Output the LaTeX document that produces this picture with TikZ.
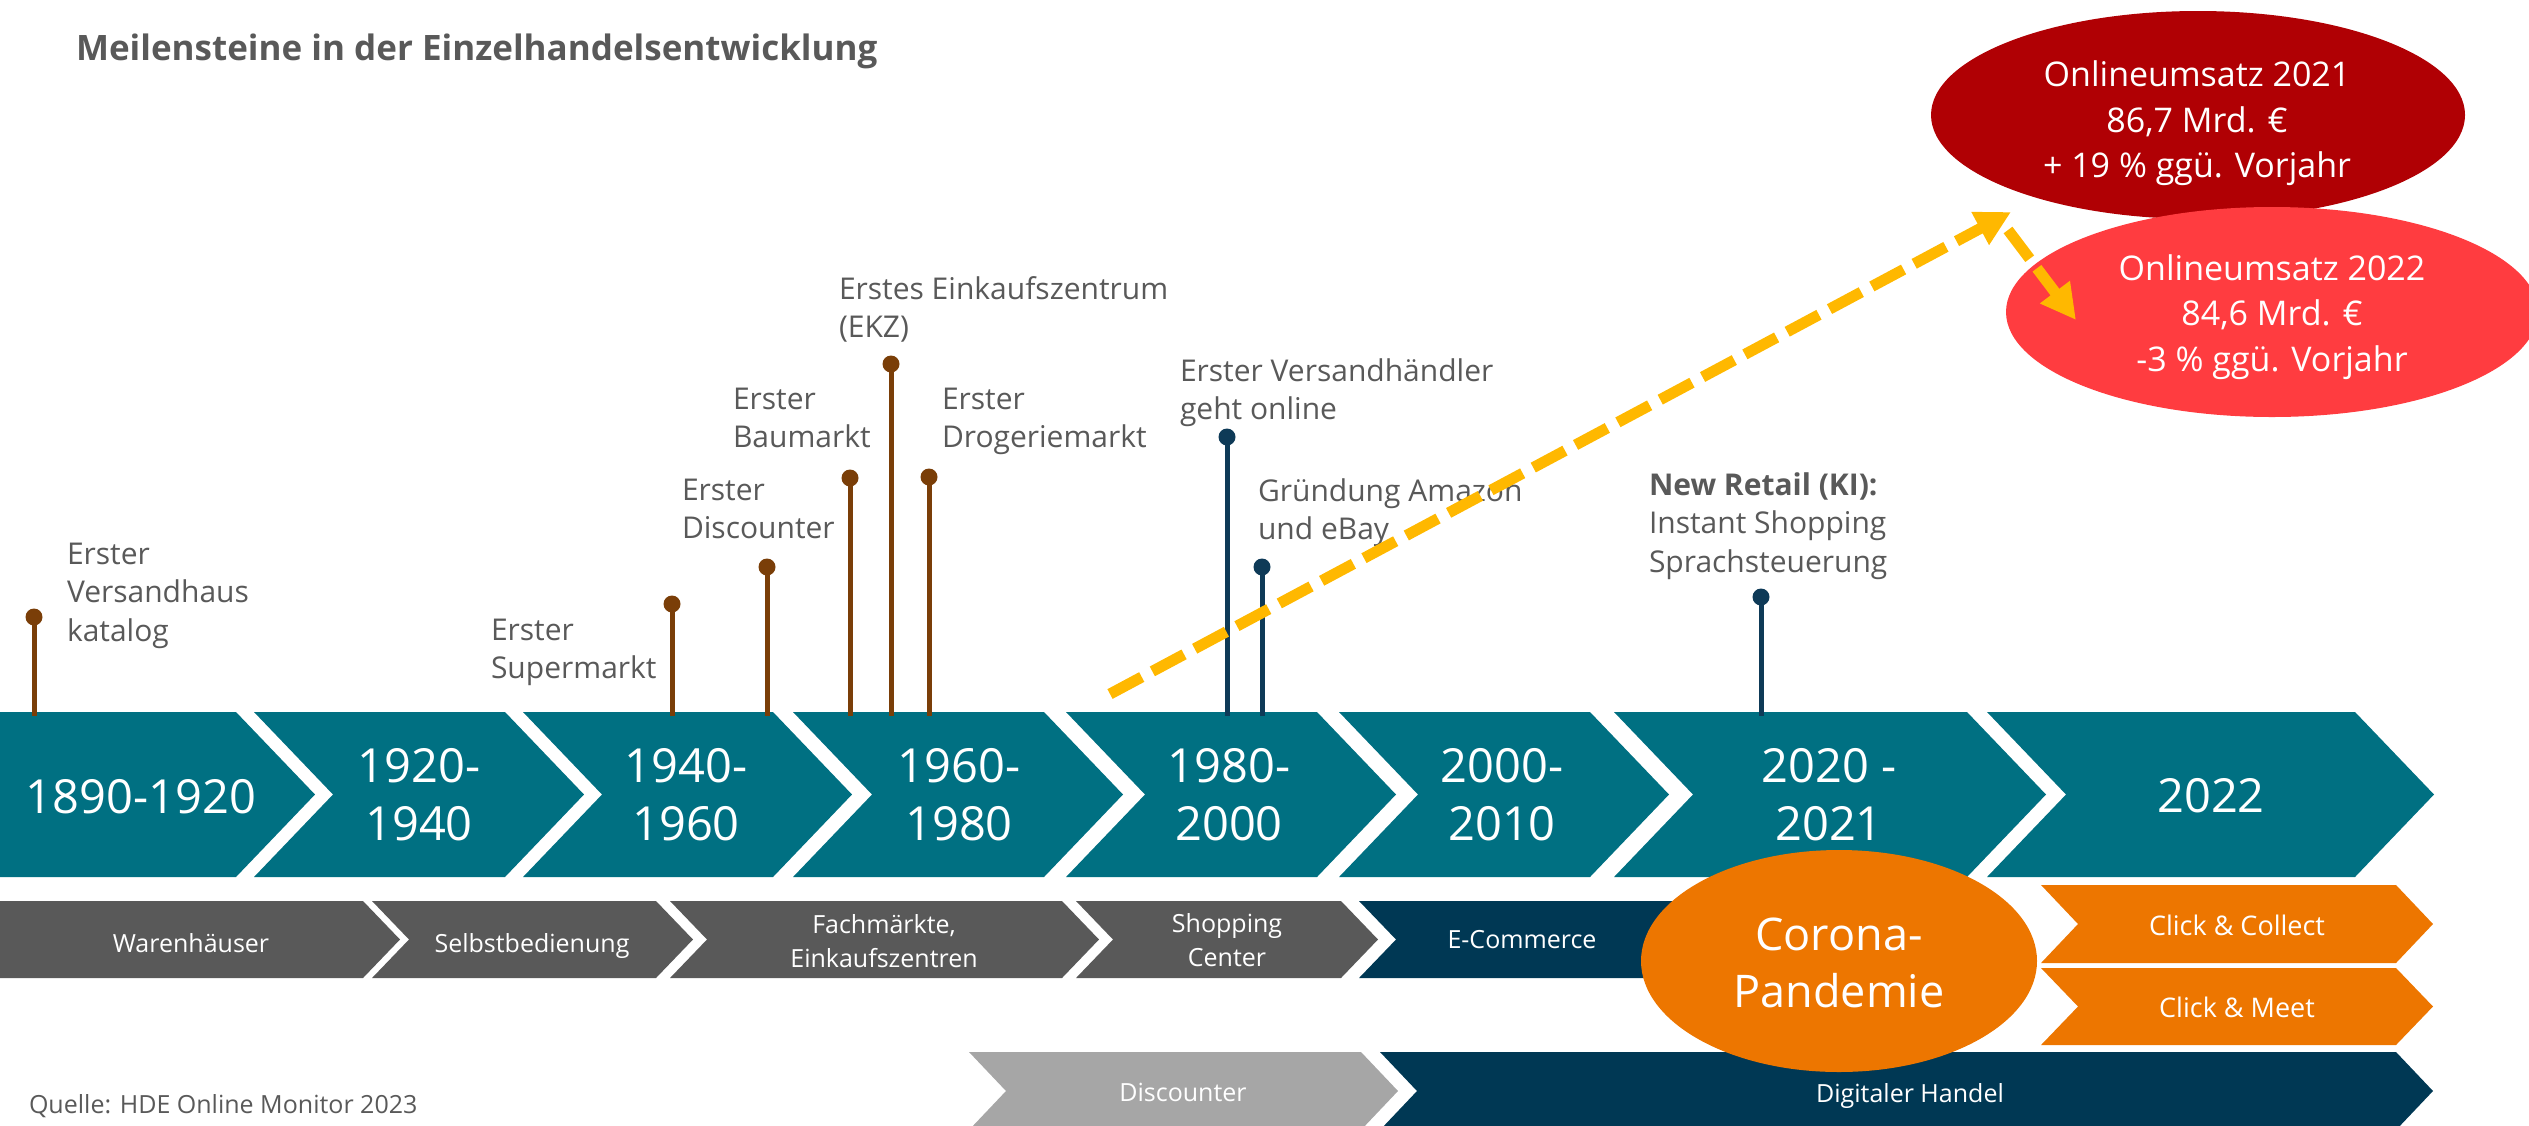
\documentclass[tikz,border=0pt]{standalone}
\usepackage{fontspec}
\setmainfont{Open Sans}
\usetikzlibrary{arrows.meta,shapes.geometric}

\definecolor{cTeal}{RGB}{0,112,130}
\definecolor{cNavy}{RGB}{0,56,84}
\definecolor{cGrey}{RGB}{89,89,89}
\definecolor{cLight}{RGB}{166,166,166}
\definecolor{cOrange}{RGB}{237,118,0}
\definecolor{cDarkRed}{RGB}{176,0,4}
\definecolor{cRed}{RGB}{255,60,64}
\definecolor{cYellow}{RGB}{255,184,0}
\definecolor{cBrown}{RGB}{122,62,8}
\definecolor{cPin}{RGB}{14,58,87}
\definecolor{cText}{RGB}{89,89,89}

% band with pointed right end: fill, left x, right x, top y, bottom y, tip depth, notch depth
\newcommand\band[7]{%
  \fill[#1] (#2,#4) -- (#3,#4) -- ({#3+#6},{(#4+#5)/2}) -- (#3,#5) -- (#2,#5)
    -- ({#2+#7},{(#4+#5)/2}) -- cycle;}

\begin{document}
\begin{tikzpicture}[x=1pt, y=-1pt,
  every node/.style={inner sep=0pt, outer sep=0pt},
  yeartext/.style={text=white, align=center, anchor=base, font=\fontsize{47}{58}\selectfont},
  bandtext/.style={text=white, align=center, anchor=base, font=\fontsize{25}{34}\selectfont},
  clicktext/.style={text=white, anchor=base, font=\fontsize{27}{34}\selectfont},
  mstext/.style={text=cText, align=left, anchor=base west, font=\fontsize{30}{38.5}\selectfont},
  ovaltext/.style={text=white, align=center, anchor=base, font=\fontsize{34}{45.5}\selectfont},
  stem/.style={line width=5pt},
  pindot/.style={circle, minimum size=17pt, fill=#1},
  yarrow/.style={draw=cYellow, line width=11pt, dash pattern=on 36pt off 12pt,
    -{Triangle[length=35pt,width=35pt]}},
]
\useasboundingbox (0,0) rectangle (2529,1125);
\clip (0,0) rectangle (2529,1125);

% title
\node[anchor=base west, text=cText, font=\fontsize{35}{42}\selectfont\bfseries] (title)
  at (76,60.5) {Meilensteine in der Einzelhandelsentwicklung};

% period chevrons
\band{cTeal}{0}{236}{712}{877}{79}{0}
\band{cTeal}{254}{505}{712}{877}{79}{79}
\band{cTeal}{523}{773}{712}{877}{79}{79}
\band{cTeal}{793}{1044}{712}{877}{79}{79}
\band{cTeal}{1066}{1317}{712}{877}{79}{79}
\band{cTeal}{1339}{1590}{712}{877}{79}{79}
\band{cTeal}{1614}{1967}{712}{877}{79}{79}
\band{cTeal}{1987}{2355}{712}{877}{79}{79}

% (base anchor of a multi-line node sits on its last line)
\node[yeartext] (y1) at (141,813) {1890-1920};
\node[yeartext] (y2) at (419,840) {1920-\\1940};
\node[yeartext] (y3) at (686,840) {1940-\\1960};
\node[yeartext] (y4) at (959,840) {1960-\\1980};
\node[yeartext] (y5) at (1229,840) {1980-\\2000};
\node[yeartext] (y6) at (1502,840) {2000-\\2010};
\node[yeartext] (y7) at (1829,840) {2020 -\\2021};
\node[yeartext] (y8) at (2211,812) {2022};

% format bands
\band{cGrey}{0}{363}{901}{978}{37}{0}
\band{cGrey}{372}{656}{901}{978}{37}{37}
\band{cGrey}{670}{1062}{901}{978}{37}{37}
\band{cGrey}{1076}{1341}{901}{978}{37}{37}
\band{cNavy}{1359}{1690}{901}{978}{37}{37}
\band{cLight}{969}{1361}{1052}{1130}{37}{37}
\band{cNavy}{1380}{2396}{1052}{1130}{37}{37}
\band{cOrange}{2041}{2396}{885}{963}{37}{37}
\band{cOrange}{2041}{2396}{968}{1045}{37}{37}

\node[bandtext] (b1) at (191,952) {Warenhäuser};
\node[bandtext] (b2) at (532,952) {Selbstbedienung};
\node[bandtext] (b3) at (884,967) {Fachmärkte,\\Einkaufszentren};
\node[bandtext] (b4) at (1227,966) {Shopping\\Center};
\node[bandtext] (b5) at (1522,948) {E-Commerce};
\node[bandtext] (b6) at (1183,1101) {Discounter};
\node[bandtext] (b7) at (1910,1102) {Digitaler Handel};
\node[clicktext] (k1) at (2237,935) {Click \& Collect};
\node[clicktext] (k2) at (2237,1017) {Click \& Meet};

% corona oval
\node[ellipse, fill=cOrange, minimum width=396pt, minimum height=222pt] (corona) at (1839,961) {};
\node[text=white, align=center, anchor=base, font=\fontsize{45}{57}\selectfont] (coronatext)
  at (1839,1007) {Corona-\\Pandemie};

% milestone pins
\foreach \nm/\px/\py/\col in {p1/34/617/cBrown, p2/672/604/cBrown, p3/767/567/cBrown,
    p4/850/478/cBrown, p5/891/364/cBrown, p6/929/477/cBrown,
    p7/1227/437/cPin, p8/1262/567/cPin, p9/1761/597/cPin}{
  \node[pindot=\col] (\nm) at (\px,\py) {};
  \coordinate (\nm-foot) at (\px,716);
  \draw[stem, \col] (\nm.center) -- (\nm-foot);
}

% milestone labels
\node[mstext] (m1) at (67,641) {Erster\\Versandhaus\\katalog};
\node[mstext] (m2) at (491,678.5) {Erster\\Supermarkt};
\node[mstext] (m3) at (682,538.5) {Erster\\Discounter};
\node[mstext] (m4) at (733,447.5) {Erster\\Baumarkt};
\node[mstext] (m5) at (839,337.5) {Erstes Einkaufszentrum\\(EKZ)};
\node[mstext] (m6) at (942,447.5) {Erster\\Drogeriemarkt};
\node[mstext] (m7) at (1180,419.5) {Erster Versandhändler\\geht online};
\node[mstext] (m8) at (1258,539.5) {Gründung Amazon\\und eBay};
\node[mstext] (m9) at (1649,572) {\textbf{New Retail (KI):}\\Instant Shopping\\Sprachsteuerung};

% online sales ovals
\node[ellipse, fill=cDarkRed, minimum width=534pt, minimum height=208pt] (sales21) at (2198,115) {};
\node[ellipse, fill=cRed, minimum width=532pt, minimum height=210pt] (sales22) at (2272,312) {};
\node[ovaltext] (t21) at (2197,177.5) {Onlineumsatz 2021\\86,7 Mrd. €\\+ 19 \% ggü. Vorjahr};
\node[ovaltext] (t22) at (2272,371) {Onlineumsatz 2022\\84,6 Mrd. €\\-3 \% ggü. Vorjahr};

% trend arrows
\coordinate (rise0) at (1110,694);
\coordinate (rise1) at (2011,212);
\coordinate (fall0) at (2008,230);
\coordinate (fall1) at (2076,320);
\draw[yarrow] (rise0) -- (rise1);
\draw[yarrow] (fall0) -- (fall1);

% source
\node[anchor=base west, text=cText, font=\fontsize{25}{30}\selectfont] (source)
  at (29,1113) {Quelle: HDE Online Monitor 2023};
\end{tikzpicture}
\end{document}
